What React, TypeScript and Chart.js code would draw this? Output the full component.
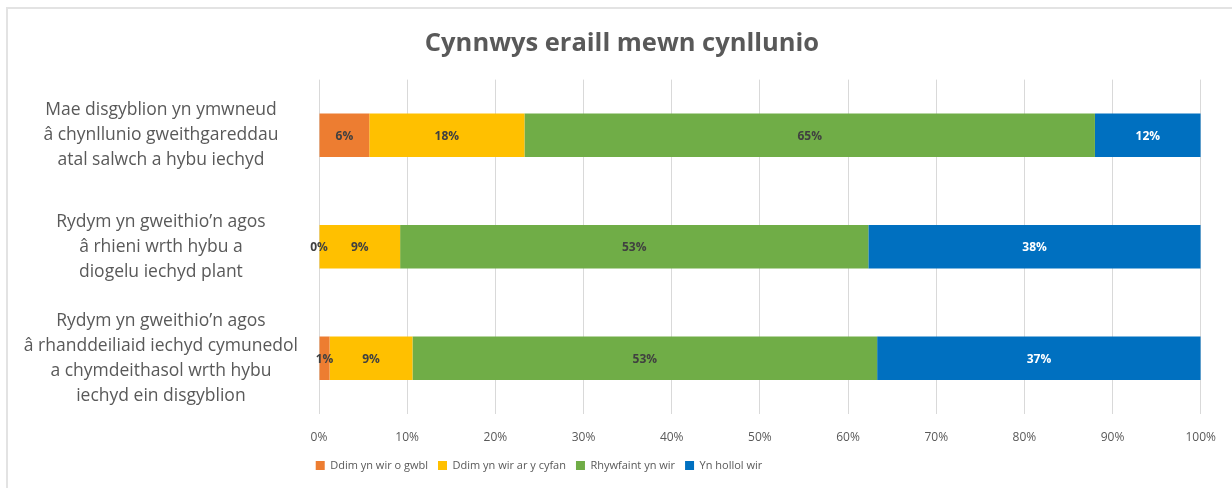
import React, { useEffect, useRef } from 'react';
import { Chart, registerables } from 'chart.js';

Chart.register(...registerables);

const chartTitle = 'Cynnwys eraill mewn cynllunio';

const categories: string[][] = [
  ['Mae disgyblion yn ymwneud', 'â chynllunio gweithgareddau', 'atal salwch a hybu iechyd'],
  ['Rydym yn gweithio’n agos', 'â rhieni wrth hybu a', 'diogelu iechyd plant'],
  ['Rydym yn gweithio’n agos', 'â rhanddeiliaid iechyd cymunedol', 'a chymdeithasol wrth hybu', 'iechyd ein disgyblion'],
];

const seriesNames = ['Ddim yn wir o gwbl', 'Ddim yn wir ar y cyfan', 'Rhywfaint yn wir', 'Yn hollol wir'];

const notTrueAtAll = [5.7, 0, 1.2];
const notTrueOnWhole = [17.6, 9.2, 9.4];
const somewhatTrue = [64.7, 53.1, 52.7];
const completelyTrue = [12.0, 37.7, 36.7];

const xTickValues = [0, 10, 20, 30, 40, 50, 60, 70, 80, 90, 100];

const seriesColors = ['#ED7D31', '#FFC000', '#70AD47', '#0070C0'];
const labelColors = ['#404040', '#404040', '#404040', '#FFFFFF'];

const FONT = '"Open Sans", "Liberation Sans", sans-serif';
const TEXT = '#595959';

const barLabels = {
  id: 'barLabels',
  afterDatasetsDraw(chart: any) {
    const ctx = chart.ctx;
    ctx.save();
    ctx.font = `bold 12px ${FONT}`;
    ctx.textAlign = 'center';
    ctx.textBaseline = 'middle';
    chart.data.datasets.forEach((ds: any, di: number) => {
      const meta = chart.getDatasetMeta(di);
      meta.data.forEach((el: any, i: number) => {
        const v = ds.data[i];
        const p = el.getProps(['x', 'y', 'base'], true);
        const cx = (p.x + p.base) / 2;
        ctx.fillStyle = labelColors[di];
        ctx.fillText(`${Math.round(v)}%`, cx, p.y + 1);
      });
    });
    ctx.restore();
  },
};

const boxShift = {
  id: 'boxShift',
  afterLayout(chart: any) {
    const lg = chart.legend;
    if (lg) {
      lg.left -= 62;
      lg.right -= 62;
    }
    const tb = chart.titleBlock;
    if (tb) {
      tb.left += 21;
      tb.right += 21;
    }
  },
};

export default function App() {
  const ref = useRef<HTMLCanvasElement | null>(null);

  useEffect(() => {
    if (!ref.current) return;
    const series = [notTrueAtAll, notTrueOnWhole, somewhatTrue, completelyTrue];
    const chart = new Chart(ref.current, {
      type: 'bar',
      data: {
        labels: categories,
        datasets: series.map((d, i) => ({
          label: seriesNames[i],
          data: d,
          backgroundColor: seriesColors[i],
          borderWidth: 0,
          barPercentage: 0.39,
          categoryPercentage: 1,
        })),
      },
      options: {
        indexAxis: 'y',
        responsive: false,
        animation: false,
        layout: { padding: { left: 0, right: 30, top: 20, bottom: 7 } },
        plugins: {
          title: {
            display: true,
            text: chartTitle,
            color: TEXT,
            font: { family: FONT, size: 25.5, weight: 'bold' },
            padding: { top: 8, bottom: 21 },
          },
          legend: {
            position: 'bottom',
            labels: {
              color: TEXT,
              font: { family: FONT, size: 11 },
              boxWidth: 9,
              boxHeight: 9,
              padding: 10,
            },
          },
          tooltip: { enabled: false },
        },
        scales: {
          x: {
            stacked: true,
            min: 0,
            max: 100,
            afterBuildTicks: (scale: any) => {
              scale.ticks = xTickValues.map((v) => ({ value: v }));
            },
            afterFit: (scale: any) => {
              scale.height = 36;
            },
            ticks: {
              color: TEXT,
              font: { family: FONT, size: 12 },
              padding: 16,
              callback: (v: any) => `${v}%`,
            },
            grid: { color: '#D9D9D9', lineWidth: 1, drawTicks: false },
            border: { display: false },
          },
          y: {
            stacked: true,
            afterFit: (scale: any) => {
              scale.width = 319;
            },
            ticks: {
              color: TEXT,
              crossAlign: 'center',
              padding: 21,
              font: { family: FONT, size: 17.5, lineHeight: 1.43 },
            },
            grid: { display: false, drawTicks: false },
            border: { display: false },
          },
        },
      } as any,
      plugins: [barLabels, boxShift],
    });
    return () => chart.destroy();
  }, []);

  return (
    <div style={{ position: 'fixed', left: 0, top: 0, width: 1232, height: 488, background: '#FFFFFF', overflow: 'hidden' }}>
      <div
        style={{
          position: 'absolute',
          left: 6,
          top: 7,
          right: -10,
          bottom: -10,
          borderTop: '2px solid #E3E3E3',
          borderLeft: '2px solid #E3E3E3',
        }}
      />
      <canvas ref={ref} width={1232} height={488} style={{ position: 'absolute', left: 0, top: 0 }} />
    </div>
  );
}
